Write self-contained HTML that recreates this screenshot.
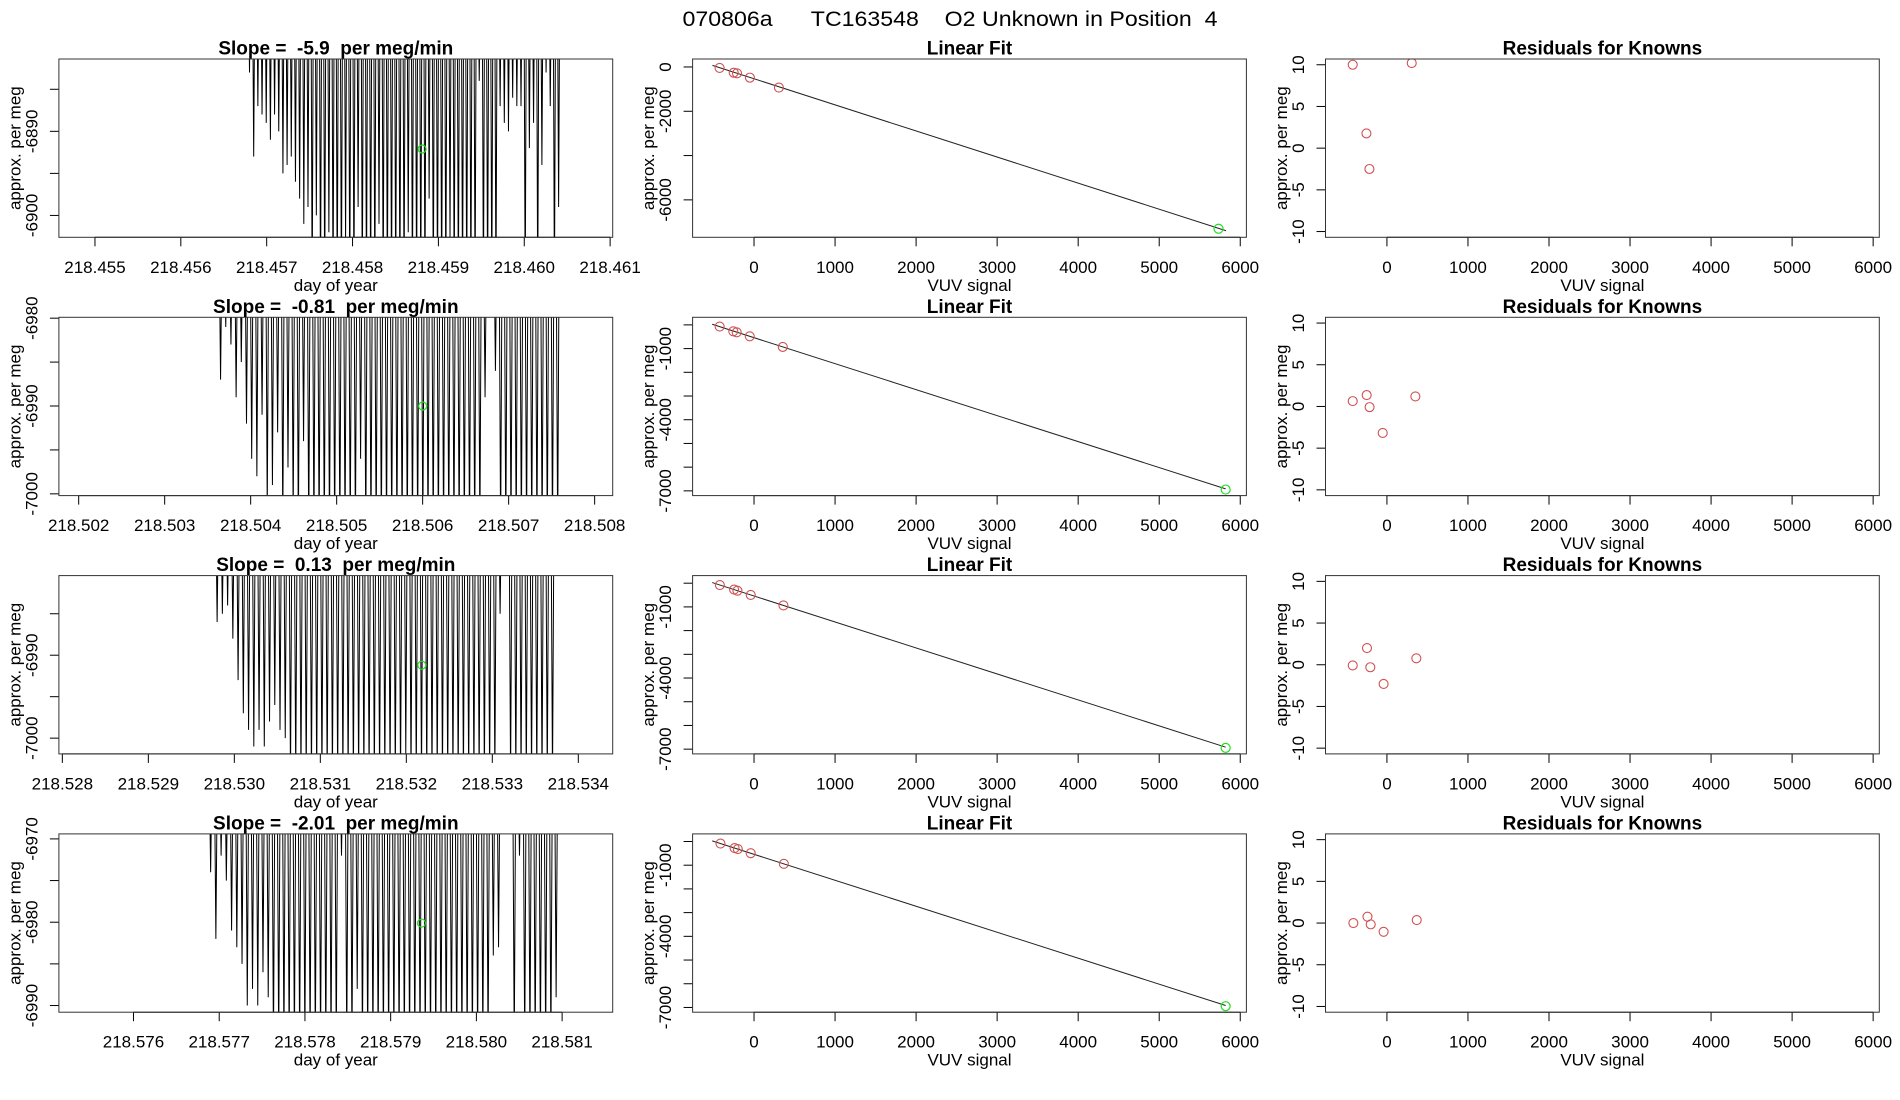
<!DOCTYPE html>
<html><head><meta charset="utf-8"><title>070806a TC163548 O2 Unknown in Position 4</title>
<style>
html,body{margin:0;padding:0;background:#fff;}
svg{display:block;font-family:"Liberation Sans",sans-serif;}
</style></head>
<body>
<svg id="fig" width="1900" height="1100" viewBox="0 0 1900 1100" xmlns="http://www.w3.org/2000/svg">
<rect x="0" y="0" width="1900" height="1100" fill="#fff"/>
<text x="950" y="26" text-anchor="middle" font-size="21" textLength="535" lengthAdjust="spacingAndGlyphs" style="white-space:pre">070806a      TC163548    O2 Unknown in Position  4</text>
</svg>
<script>
// ---- time-series panels (column 1) ----
const tsSlopes = ["-5.9", "-0.81", "0.13", "-2.01"];
const tsXlim = [[218.45458, 218.46103], [218.50177, 218.50821], [218.52796, 218.5344], [218.57513, 218.58159]];
const tsYlim = [[-6902.6, -6881.4], [-7000.2, -6979.9], [-7001.9, -6980.4], [-6990.8, -6969.4]];
const tsXticks = [
  ["218.455","218.456","218.457","218.458","218.459","218.460","218.461"],
  ["218.502","218.503","218.504","218.505","218.506","218.507","218.508"],
  ["218.528","218.529","218.530","218.531","218.532","218.533","218.534"],
  ["218.576","218.577","218.578","218.579","218.580","218.581"]];
const tsYticks = [[-6885,-6890,-6895,-6900],[-6980,-6985,-6990,-6995,-7000],[-6985,-6990,-6995,-7000],[-6970,-6975,-6980,-6985,-6990]];
const tsYlabels = [[-6890,-6900],[-6980,-6990,-7000],[-6990,-7000],[-6970,-6980,-6990]];
const tsStart = [218.4568, 218.50365, 218.5298, 218.5769];
const tsEnd = [218.4604, 218.50757, 218.5337, 218.58093];
const tsHigh = [-6870, -6970, -6970, -6960];
const tsLows1 = [-6883,-6893,-6887,-6888,-6889,-6891,-6888,-6890,-6895,-6894,
 -6893,-6896,-6898,-6901,-6899,-6910,-6900,-6910,-6910,-6902,
 -6910,-6910,-6910,-6903,-6910,-6910,-6899,-6910,-6910,-6910,
 -6910,-6901,-6910,-6910,-6910,-6910,-6910,-6910,-6902,-6910,
 -6910,-6910,-6910,-6898,-6910,-6910,-6910,-6910,-6903,-6910,
 -6910,-6910,-6910,-6910,-6910,-6884,-6910,-6910,-6910,-6910,
 -6887,-6889,-6890,-6886,-6887,-6887,-6910,-6892,-6889,-6910,
 -6894,-6883,-6887,-6910,-6899];
const tsLows2 = [-6987,-6981,-6983,-6989,-6985,-6992,-6996,-6998,-6991,-7002,
 -6999,-6993,-7004,-6997,-7003,-7005,-6994,-7005,-7005,-7005,
 -7005,-7005,-7005,-7005,-7005,-7005,-7005,-6996,-7005,-7005,
 -7005,-7005,-7005,-7005,-7005,-7005,-7005,-7005,-7005,-7005,
 -7005,-7005,-7005,-7005,-7005,-7005,-7005,-7005,-7005,-7005,
 -7005,-6989,null,-6986,-7005,-7005,-7005,-7005,-7005,-7005,
 -7005,-7005,-7005,-7005,-7005,-7005];
const tsLows3 = [-6986,-6985,-6984,-6988,-6993,-6997,-6999,-7001,-6999,-7001,
 -6998,-6996,-6999,-7000,-7005,-7005,-7005,-7005,-7005,-7005,
 -7005,-7005,-7005,-7005,-7005,-7005,-7005,-7005,-7005,-7005,
 -7005,-7005,-7005,-7005,-7005,-7005,-7002,-7005,-7005,-7005,
 -7005,-7005,-7005,-7005,-7005,-7005,-7005,-7005,-7005,-7005,
 -7005,-7005,-7005,-7005,-6985,null,-7005,-7005,-7005,-7005,
 -7005,-7005,-7005,-7005,-7005];
const tsLows4 = [-6974,-6982,-6972,-6975,-6981,-6983,-6985,-6990,-6988,-6990,
 -6986,-6989,-6995,-6995,-6995,-6995,-6995,-6995,-6995,-6995,
 -6995,-6995,-6995,-6995,-6995,-6972,-6995,-6995,-6988,-6995,
 -6995,-6995,-6995,-6995,-6995,-6995,-6995,-6995,-6995,-6995,
 -6995,-6995,-6995,-6995,-6995,-6995,-6995,-6995,-6995,-6995,
 -6995,-6995,-6995,-6995,-6984,-6983,null,null,-6995,-6972,
 -6995,-6995,-6995,-6995,-6995,-6995,-6989];
const tsLows = [tsLows1, tsLows2, tsLows3, tsLows4];
const tsUnkX = [218.45881, 218.506, 218.53218, 218.57936];
const tsUnkY = [-6892.1, -6990.0, -6991.2, -6980.1];

// ---- linear fit panels (column 2) ----
const fitYlim = [[-7690, 360], [-7200, 320], [-7200, 320], [-7200, 320]];
const fitYticks = [[0,-2000,-4000,-6000],[0,-1000,-2000,-3000,-4000,-5000,-6000,-7000],[0,-1000,-2000,-3000,-4000,-5000,-6000,-7000],[0,-1000,-2000,-3000,-4000,-5000,-6000,-7000]];
const fitYlabels = [[0,-2000,-6000],[-1000,-4000,-7000],[-1000,-4000,-7000],[-1000,-4000,-7000]];
const knownX = [[-425,-251,-210,-51,307],[-424,-256,-214,-53,355],[-422,-246,-205,-41,363],[-414,-240,-200,-41,368]];
const knownY = [[-45,-256,-288,-481,-931],[-72,-270,-312,-481,-928],[-78,-270,-315,-495,-938],[-86,-277,-321,-495,-943]];
const unkX = [5732, 5820, 5820, 5820];
const unkY = [-7305, -6946, -6946, -6946];
const fitSlope = [-1.178, -1.0957, -1.0957, -1.0957];
const fitIntercept = [-532, -540, -540, -540];
const fitRange = [[-513, 5825], [-516, 5820], [-516, 5820], [-516, 5820]];
const vuvXlim = [-758, 6076];
const vuvTicks = [0,1000,2000,3000,4000,5000,6000];

// ---- residual panels (column 3) ----
const resYlim = [-10.69, 10.69];
const resTicks = [-10,-5,0,5,10];
const resX = [[-422,306,-253,-216],[-422,-250,-214,-52,351],[-422,-246,-205,-41,363],[-414,-240,-200,-41,368]];
const resY = [[10.0,10.2,1.77,-2.5],[0.64,1.36,-0.08,-3.18,1.2],[-0.08,2.0,-0.3,-2.3,0.77],[0.0,0.76,-0.16,-1.05,0.36]];

const NS = "http://www.w3.org/2000/svg";
const svg = document.getElementById('fig');
const colL = [58.9, 692.6, 1325.5], PW = 553.8, PH = 178.3;
function rowTop(r){ return 59 + 258.3*r; }
function mk(tag, attrs, parent){
  const e = document.createElementNS(NS, tag);
  for (const k in attrs) e.setAttribute(k, attrs[k]);
  (parent||svg).appendChild(e);
  return e;
}
function txt(x,y,s,size,extra,parent){
  const t = mk('text', Object.assign({x:x,y:y,'font-size':size,'text-anchor':'middle','dominant-baseline':'central'}, extra||{}), parent);
  t.textContent = s;
  return t;
}
let clipId = 0;
function setupPanel(r,c,xlim,ylim,name){
  const L = colL[c], T = rowTop(r);
  const g = mk('g', {});
  
  
  const sx = v => L + (v - xlim[0])/(xlim[1]-xlim[0])*PW;
  const sy = v => T + PH - (v - ylim[0])/(ylim[1]-ylim[0])*PH;
  const id = 'clip'+(clipId++);
  const cp = mk('clipPath', {id:id}, g);
  mk('rect', {x:L, y:T, width:PW, height:PH}, cp);
  const plot = mk('g', {'clip-path':'url(#'+id+')'}, g);
  return {L,T,sx,sy,g,plot};
}
function drawFrame(p, xt, xlabels, yt, ylabels, xTitle, title){
  const {L,T,sx,sy,g} = p;
  const ax = mk('g', {}, g);
  
  
  const xs = xt.map(sx);
  mk('line', {x1:xs[0], y1:T+PH, x2:xs[xs.length-1], y2:T+PH, stroke:'#000', 'stroke-width':1}, ax);
  xt.forEach((v,i)=>{
    const x = sx(v);
    mk('line', {x1:x, y1:T+PH, x2:x, y2:T+PH+9, stroke:'#000', 'stroke-width':1}, ax);
    const lab = txt(x, T+PH+30, xlabels[i], 17, {}, ax);
    
    
  });
  const ay = mk('g', {}, g);
  
  
  yt.forEach(v=>{
    const y = sy(v);
    mk('line', {x1:L, y1:y, x2:L-9, y2:y, stroke:'#000', 'stroke-width':1}, ay);
  });
  ylabels.forEach(v=>{
    const y = sy(v);
    const lab = txt(L-27, y, String(v), 17, {transform:'rotate(-90 '+(L-27)+' '+y+')'}, ay);
    
    
  });
  mk('rect', {x:L, y:T, width:PW, height:PH, fill:'none', stroke:'#333', 'stroke-width':1}, g);
  const xtl = txt(L+PW/2, T+PH+48, xTitle, 17, {}, g);
  
  
  const ytl = txt(L-44, T+PH/2, 'approx. per meg', 17, {transform:'rotate(-90 '+(L-44)+' '+(T+PH/2)+')'}, g);
  
  
  const tt = txt(L+PW/2, T-10, title, 19, {'font-weight':'bold', style:'white-space:pre'}, g);
  
  
}

for (let r=0; r<4; r++){
  // column 1: time series
  const p = setupPanel(r,0,tsXlim[r],tsYlim[r],'timeseries-panel-'+(r+1));
  const lows = tsLows[r], n = lows.length;
  const step = (tsEnd[r]-tsStart[r])/(n-1);
  const yh = p.sy(tsHigh[r]).toFixed(2);
  let d = 'M'+p.sx(tsStart[r]-step).toFixed(2)+' '+yh+' ';
  for (let i=0;i<n;i++){
    const t = tsStart[r] + i*step;
    if (lows[i] === null) continue;
    d += 'L'+p.sx(t - step*0.3).toFixed(2)+' '+yh+' ';
    d += 'L'+p.sx(t).toFixed(2)+' '+p.sy(lows[i]).toFixed(2)+' ';
    d += 'L'+p.sx(t + step*0.3).toFixed(2)+' '+yh+' ';
  }
  const path = mk('path', {d:d, fill:'none', stroke:'#000', 'stroke-width':1}, p.plot);
  
  
  const uc = mk('circle', {cx:p.sx(tsUnkX[r]), cy:p.sy(tsUnkY[r]), r:4, fill:'none', stroke:'#22dd22', 'stroke-width':1.2}, p.plot);
  
  
  const xtv = tsXticks[r].map(Number);
  drawFrame(p, xtv, tsXticks[r], tsYticks[r], tsYlabels[r], 'day of year', 'Slope =  '+tsSlopes[r]+'  per meg/min');

  // column 2: linear fit
  const q = setupPanel(r,1,vuvXlim,fitYlim[r],'linear-fit-panel-'+(r+1));
  const x0 = fitRange[r][0], x1 = fitRange[r][1];
  const fl = mk('line', {x1:q.sx(x0), y1:q.sy(fitIntercept[r]+fitSlope[r]*x0), x2:q.sx(x1), y2:q.sy(fitIntercept[r]+fitSlope[r]*x1), stroke:'#222', 'stroke-width':1}, q.plot);
  
  
  knownX[r].forEach((xv,i)=>{
    const c = mk('circle', {cx:q.sx(xv), cy:q.sy(knownY[r][i]), r:4.5, fill:'none', stroke:'#d05050', 'stroke-width':1.1}, q.plot);
    
    
  });
  const gu = mk('circle', {cx:q.sx(unkX[r]), cy:q.sy(unkY[r]), r:4.5, fill:'none', stroke:'#22dd22', 'stroke-width':1.2}, q.plot);
  
  
  drawFrame(q, vuvTicks, vuvTicks.map(String), fitYticks[r], fitYlabels[r], 'VUV signal', 'Linear Fit');

  // column 3: residuals
  const s = setupPanel(r,2,vuvXlim,resYlim,'residuals-panel-'+(r+1));
  resX[r].forEach((xv,i)=>{
    const c = mk('circle', {cx:s.sx(xv), cy:s.sy(resY[r][i]), r:4.5, fill:'none', stroke:'#d05050', 'stroke-width':1.1}, s.plot);
    
    
  });
  drawFrame(s, vuvTicks, vuvTicks.map(String), resTicks, resTicks, 'VUV signal', 'Residuals for Knowns');
}
</script>
</body></html>
